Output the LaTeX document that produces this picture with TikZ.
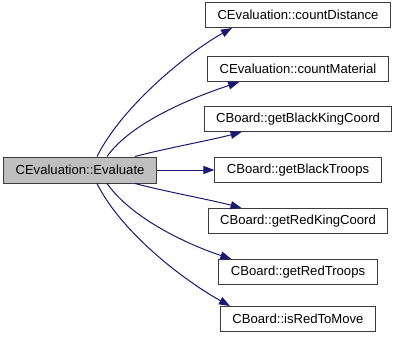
\documentclass[tikz,border=0pt]{standalone}
\usepackage{fontspec}
\setmainfont{Liberation Sans}
\usetikzlibrary{arrows.meta, calc}
\definecolor{edgeblue}{RGB}{25,25,112}
\definecolor{boxgray}{RGB}{191,191,191}
\definecolor{boxline}{RGB}{60,60,60}
\tikzset{
    fn-node/.style={
        draw=boxline, fill=white, line width=1pt, rectangle,
        inner xsep=12pt, inner ysep=0pt, minimum height=25pt,
        font=\fontsize{13.1}{15}\selectfont
    },
    root-node/.style={
        fn-node, fill=boxgray, minimum height=26pt
    },
    call-edge/.style={
        draw=edgeblue, line width=1pt,
        -{Triangle[length=11pt, width=8pt, fill=edgeblue]}
    },
}

\begin{document}
\begin{tikzpicture}[x=1pt, y=-1pt]

        \useasboundingbox (0,0) rectangle (397,341);

        % CALLER
        \node[root-node] (EVAL)   at (80,170)    {CEvaluation::Evaluate};

        % CALLEES
        \node[fn-node]   (DIST)   at (298,15)    {CEvaluation::countDistance};
        \node[fn-node]   (MAT)    at (298,69)    {CEvaluation::countMaterial};
        \node[fn-node]   (BKING)  at (298,119)   {CBoard::getBlackKingCoord};
        \node[fn-node]   (BTROOP) at (298,170)   {CBoard::getBlackTroops};
        \node[fn-node]   (RKING)  at (298,221)   {CBoard::getRedKingCoord};
        \node[fn-node]   (RTROOP) at (298,272)   {CBoard::getRedTroops};
        \node[fn-node]   (MOVE)   at (298,319)   {CBoard::isRedToMove};

        % CALLS ABOVE
        \draw[call-edge] ($(EVAL.north) + (17,0)$)
            .. controls +(25,-50) and +(-45,25) .. ($(DIST.south west) + (27,0)$);
        \draw[call-edge] ($(EVAL.north) + (27,0)$)
            .. controls +(25,-35) and +(-45,15) .. ($(MAT.south west) + (32,0)$);
        \draw[call-edge] ($(EVAL.north) + (55,0)$)
            .. controls +(30,-8) and +(-30,8) .. ($(BKING.south west) + (38,0)$);

        % STRAIGHT CALL
        \draw[call-edge] (EVAL.east) -- (BTROOP.west);

        % CALLS BELOW
        \draw[call-edge] ($(EVAL.south) + (55,0)$)
            .. controls +(30,8) and +(-30,-8) .. ($(RKING.north west) + (34,0)$);
        \draw[call-edge] ($(EVAL.south) + (27,0)$)
            .. controls +(25,35) and +(-45,-15) .. ($(RTROOP.north west) + (13,0)$);
        \draw[call-edge] ($(EVAL.south) + (17,0)$)
            .. controls +(25,50) and +(-45,-25) .. ($(MOVE.north west) + (10,0)$);

    \end{tikzpicture}
\end{document}
